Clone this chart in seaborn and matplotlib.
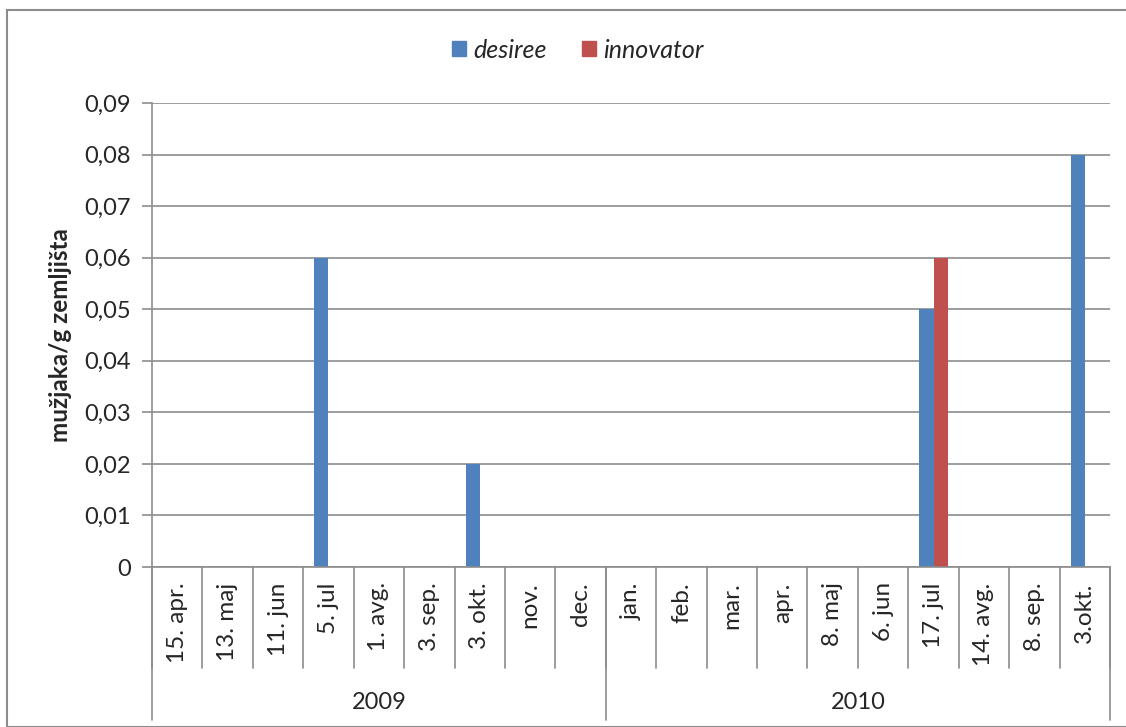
import matplotlib
matplotlib.use('Agg')
import matplotlib.pyplot as plt
import matplotlib.transforms as mtransforms
from matplotlib.patches import Rectangle
import seaborn as sns
import pandas as pd

dates = ['15. apr.', '13. maj', '11. jun', '5. jul', '1. avg.', '3. sep.', '3. okt.',
         'nov.', 'dec.', 'jan.', 'feb.', 'mar.', 'apr.', '8. maj', '6. jun', '17. jul',
         '14. avg.', '8. sep.', '3.okt.']
years = ['2009', '2010']
year_sizes = [9, 10]
desiree = [0, 0, 0, 0.06, 0, 0, 0.02, 0, 0, 0, 0, 0, 0, 0, 0, 0.05, 0, 0, 0.08]
innovator = [0, 0, 0, 0, 0, 0, 0, 0, 0, 0, 0, 0, 0, 0, 0, 0.06, 0, 0, 0]

cats = [f'{i:02d}' for i in range(len(dates))]
df = pd.DataFrame({
    'cat': cats * 2,
    'value': desiree + innovator,
    'sorta': ['desiree'] * len(dates) + ['innovator'] * len(dates),
})

sns.set_style('white')
plt.rcParams['font.family'] = ['Lato', 'DejaVu Sans']
FS = 17
GRAY = '#8c8c8c'

fig = plt.figure(figsize=(11.26, 7.27), dpi=100)
fig.patches.append(Rectangle((7 / 1126, 0), 2, (727 - 10) / 727, transform=fig.transFigure,
                             fill=False, edgecolor=GRAY, linewidth=1.5))
ax = fig.add_axes([152 / 1126, (727 - 567) / 727, (1110 - 152) / 1126, (567 - 103) / 727])

sns.barplot(data=df, x='cat', y='value', hue='sorta', order=cats,
            palette=['#4f81bd', '#c0504d'], width=0.56, ax=ax, legend=False,
            linewidth=0, saturation=1)

ax.set_xlim(-0.5, len(dates) - 0.5)
ax.set_ylim(0, 0.09)
ax.set_yticks([i / 100 for i in range(10)])
ax.set_yticklabels(['0'] + [f'0,{i:02d}' for i in range(1, 10)], fontsize=FS)
ax.tick_params(axis='y', length=7, width=1.2, color=GRAY, pad=8, direction='out', left=True)
ax.yaxis.grid(True, color=GRAY, linewidth=1.2)
ax.set_axisbelow(True)
for s in ['top', 'right']:
    ax.spines[s].set_visible(False)
for s in ['left', 'bottom']:
    ax.spines[s].set_color(GRAY)
    ax.spines[s].set_linewidth(1.2)

ax.set_xticks(range(len(dates)))
ax.set_xticklabels([])
ax.tick_params(axis='x', length=0, bottom=False)
ax.set_xlabel('')
ax.set_ylabel('mužjaka/g zemljišta', fontsize=17.5, fontweight='bold', labelpad=9)

trans = mtransforms.blended_transform_factory(ax.transData, ax.transAxes)
for i, d in enumerate(dates):
    ax.text(i, -0.033, d, rotation=90, ha='center', va='top', fontsize=17.5,
            transform=trans, clip_on=False)
for i in range(len(dates) + 1):
    ax.plot([i - 0.5, i - 0.5], [0, -0.218], color=GRAY, linewidth=1.2,
            transform=trans, clip_on=False)
start = 0
for y, n in zip(years, year_sizes):
    ax.plot([start - 0.5, start - 0.5], [0, -0.33], color=GRAY, linewidth=1.2,
            transform=trans, clip_on=False)
    ax.text(start + (n - 1) / 2, -0.293, y, ha='center', va='center', fontsize=FS,
            transform=trans, clip_on=False)
    start += n
ax.plot([start - 0.5, start - 0.5], [0, -0.33], color=GRAY, linewidth=1.2,
        transform=trans, clip_on=False)

handles = [Rectangle((0, 0), 1, 1, color='#4f81bd'), Rectangle((0, 0), 1, 1, color='#c0504d')]
fig.legend(handles, ['desiree', 'innovator'], loc='center', bbox_to_anchor=(578 / 1126, 1 - 50 / 727),
           ncol=2, frameon=False, prop={'size': 18, 'style': 'italic'},
           handlelength=0.55, handleheight=0.55, handletextpad=0.3, columnspacing=1.4)

fig.savefig('out.png', dpi=100)
